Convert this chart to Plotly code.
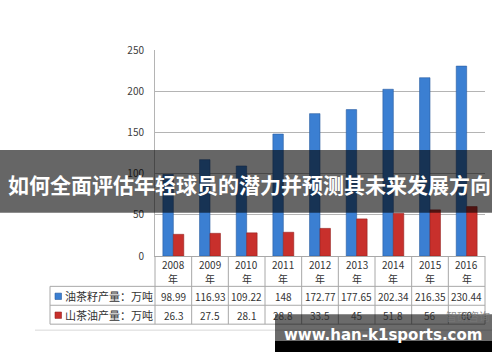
import plotly.graph_objects as go

# ---- data ----
years = ["2008", "2009", "2010", "2011", "2012", "2013", "2014", "2015", "2016"]
seed_output = [98.99, 116.93, 109.22, 148, 172.77, 177.65, 202.34, 216.35, 230.44]
oil_output = [26.3, 27.5, 28.1, 28.8, 33.5, 45, 51.8, 56, 60]
seed_labels = ["98.99", "116.93", "109.22", "148", "172.77", "177.65", "202.34", "216.35", "230.44"]
oil_labels = ["26.3", "27.5", "28.1", "28.8", "33.5", "45", "51.8", "56", "60"]
series_names = ["油茶籽产量：万吨", "山茶油产量：万吨"]
y_ticks = [0, 50, 100, 150, 200, 250]
title_text = "如何全面评估年轻球员的潜力并预测其未来发展方向"
site_text = "www.han-k1sports.com"
source_text = "智研咨询"

# ---- geometry helpers (pixel -> paper) ----
W, H = 500, 362
L, R, T, B = 155, 15, 49.5, 105.5
PW, PH = W - L - R, H - T - B


def px(x):
    return (x - L) / PW


def py(y):
    return (H - B - y) / PH


BLUE = "#3b7fd2"
RED = "#c8302c"
GRID = "#b4b4b4"
TXT = "#333333"
FONT = "Noto Sans CJK SC, Noto Sans, sans-serif"

fig = go.Figure()
fig.add_trace(go.Bar(x=years, y=seed_output, name=series_names[0],
                     marker=dict(color=BLUE, line=dict(color="#2a5da0", width=0.6))))
fig.add_trace(go.Bar(x=years, y=oil_output, name=series_names[1],
                     marker=dict(color=RED, line=dict(color="#962220", width=0.6))))

shapes = []
annotations = []

# table grid
line_c = "#a8a8a8"
n = len(years)
for i in range(n + 1):
    shapes.append(dict(type="line", xref="paper", yref="paper",
                       x0=i / n, x1=i / n, y0=py(256.5), y1=py(325),
                       line=dict(color=line_c, width=1)))
for yy in [287, 306, 325]:
    shapes.append(dict(type="line", xref="paper", yref="paper",
                       x0=px(50), x1=1, y0=py(yy), y1=py(yy),
                       line=dict(color=line_c, width=1)))
shapes.append(dict(type="line", xref="paper", yref="paper",
                   x0=px(50), x1=px(50), y0=py(287), y1=py(325),
                   line=dict(color=line_c, width=1)))
# chart frame bottom line
shapes.append(dict(type="line", xref="paper", yref="paper",
                   x0=px(35), x1=px(492), y0=py(331), y1=py(331),
                   line=dict(color="#d8d8d8", width=1)))

# legend squares
for yc, col, lc in [(297, BLUE, "#2a5da0"), (316, RED, "#962220")]:
    shapes.append(dict(type="rect", xref="paper", yref="paper",
                       x0=px(55), x1=px(61.5), y0=py(yc - 3.2), y1=py(yc + 3.2),
                       fillcolor=col, line=dict(color=lc, width=0.6)))

# table text (x given as category index on the category axis)
for i, yr in enumerate(years):
    annotations.append(dict(x=i, xref="x", y=py(265), yref="paper",
                            text=yr, showarrow=False,
                            font=dict(size=10, color=TXT, family=FONT),
                            xanchor="center", yanchor="middle"))
    annotations.append(dict(x=i, xref="x", y=py(279.5), yref="paper",
                            text="年", showarrow=False,
                            font=dict(size=10, color=TXT, family=FONT),
                            xanchor="center", yanchor="middle"))
    annotations.append(dict(x=i, xref="x", y=py(297.5), yref="paper",
                            text=seed_labels[i], showarrow=False,
                            font=dict(size=10, color=TXT, family=FONT),
                            xanchor="center", yanchor="middle"))
    annotations.append(dict(x=i, xref="x", y=py(316), yref="paper",
                            text=oil_labels[i], showarrow=False,
                            font=dict(size=10, color=TXT, family=FONT),
                            xanchor="center", yanchor="middle"))
for yc, name in [(297, series_names[0]), (316, series_names[1])]:
    annotations.append(dict(x=px(63), y=py(yc), xref="paper", yref="paper",
                            text=name, showarrow=False,
                            font=dict(size=11, color=TXT, family=FONT),
                            xanchor="left", yanchor="middle"))

# overlay banner with title
shapes.append(dict(type="rect", xref="paper", yref="paper", layer="above",
                   x0=px(0), x1=px(492), y0=py(150), y1=py(213),
                   fillcolor="rgba(0,0,0,0.6)", line=dict(width=0)))
annotations.append(dict(x=px(249), y=py(184), xref="paper", yref="paper",
                        text="<b>" + title_text + "</b>", showarrow=False,
                        font=dict(size=21, color="white", family=FONT),
                        xanchor="center", yanchor="middle"))

# source watermark
annotations.append(dict(x=px(468), y=py(317), xref="paper", yref="paper",
                        text=source_text, showarrow=False,
                        font=dict(size=11, color="rgba(120,120,120,0.8)", family=FONT),
                        xanchor="center", yanchor="middle"))

# bottom site watermark
shapes.append(dict(type="rect", xref="paper", yref="paper", layer="above",
                   x0=px(275), x1=px(492), y0=py(315), y1=py(342),
                   fillcolor="rgba(0,0,0,0.58)", line=dict(width=0)))
shapes.append(dict(type="rect", xref="paper", yref="paper", layer="above",
                   x0=px(275), x1=px(492), y0=py(342), y1=py(353),
                   fillcolor="black", line=dict(width=0)))
annotations.append(dict(x=px(383), y=py(336), xref="paper", yref="paper",
                        text="<b>" + site_text + "</b>", showarrow=False,
                        font=dict(size=15, color="white", family="DejaVu Sans, sans-serif"),
                        xanchor="center", yanchor="middle"))

fig.update_layout(
    width=W, height=H,
    margin=dict(l=L, r=R, t=T, b=B, pad=0),
    paper_bgcolor="white", plot_bgcolor="white",
    barmode="group", bargap=0.43, bargroupgap=0,
    showlegend=False,
    shapes=shapes, annotations=annotations,
    xaxis=dict(type="category", range=[-0.5, n - 0.5], showticklabels=False,
               showgrid=False, showline=True,
               linecolor=line_c, linewidth=1, ticks="", fixedrange=True),
    yaxis=dict(range=[0, 250], tickvals=y_ticks, showgrid=True, gridcolor=GRID,
               gridwidth=1, showline=True, linecolor=GRID, linewidth=1,
               zeroline=False, ticks="", ticklabelstandoff=8,
               tickfont=dict(size=10, color="#404040", family=FONT)),
)

fig.write_html("out.html", config={"displayModeBar": False},
               post_script="document.body.style.margin='0';document.body.style.overflow='hidden';")
